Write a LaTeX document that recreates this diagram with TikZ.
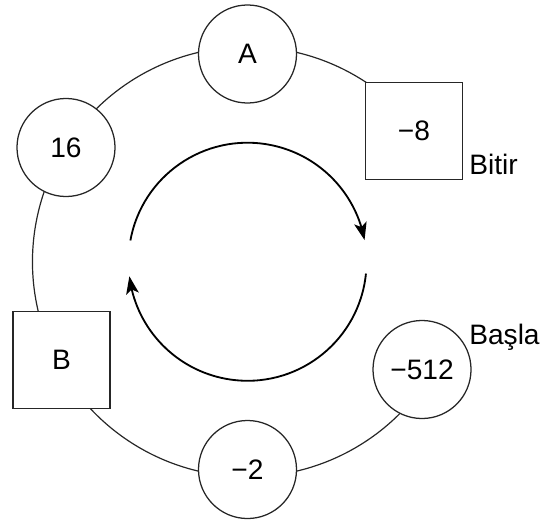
\documentclass[tikz,border=0pt]{standalone}
\usepackage{fontspec}
\setmainfont{Liberation Sans}
\usetikzlibrary{arrows.meta,bending,calc,backgrounds}
\begin{document}
\begin{tikzpicture}[x=0.025cm,y=-0.025cm,
  every node/.style={font=\fontsize{20}{24}\selectfont},
  ringnode/.style={circle,draw=black!85,line width=0.9pt,fill=white,minimum size=2.45cm,inner sep=0pt},
  boxnode/.style={rectangle,draw=black!85,line width=0.9pt,fill=white,minimum size=2.42cm,inner sep=0pt},
  ring/.style={draw=black!85,line width=0.85pt},
  cyc/.style={draw=black,line width=1.3pt,-{Stealth[length=12.5pt,width=9pt,inset=3pt]}},
  lbl/.style={anchor=base west,inner sep=0pt}]
\useasboundingbox (0,0) rectangle (556,519);
\coordinate (O) at (247.5,261.75);
\node[ringnode] (A) at (247.5,54) {A};
\node[ringnode] (n16) at (66,147.5) {16};
\node[boxnode] (B) at (61.5,360) {B};
\node[ringnode] (m2) at (247.5,469.5) {−2};
\node[ringnode] (m512) at (422,369.5) {−512};
\node[boxnode] (m8) at (414,131.2) {−8};
\node[lbl] (bitir) at (469,174) {Bitir};
\node[lbl] (basla) at (469,344.3) {Başla};
\begin{pgfonlayer}{background}
\foreach \u/\v in {m8/A, A/n16, n16/B, B/m2, m2/m512}{
  \draw[ring] let \p1=($(\u)-(O)$), \p2=($(\v)-(O)$),
    \n1={atan2(\y1,\x1)}, \n2={atan2(\y2,\x2)}, \n3={mod(\n2-\n1+720,360)}
    in ($(O)+(\n1:5.375cm)$) arc[start angle=\n1, delta angle=\n3, radius=5.375cm];
}
\end{pgfonlayer}
\coordinate (t1) at ($(O)+(169.7:2.975cm)$);
\coordinate (t2) at ($(O)+(-5.7:2.975cm)$);
\draw[cyc] (t1) arc[start angle=169.7, end angle=10.5, radius=2.975cm];
\draw[cyc] (t2) arc[start angle=-5.7, end angle=-173, radius=2.975cm];
\end{tikzpicture}
\end{document}
